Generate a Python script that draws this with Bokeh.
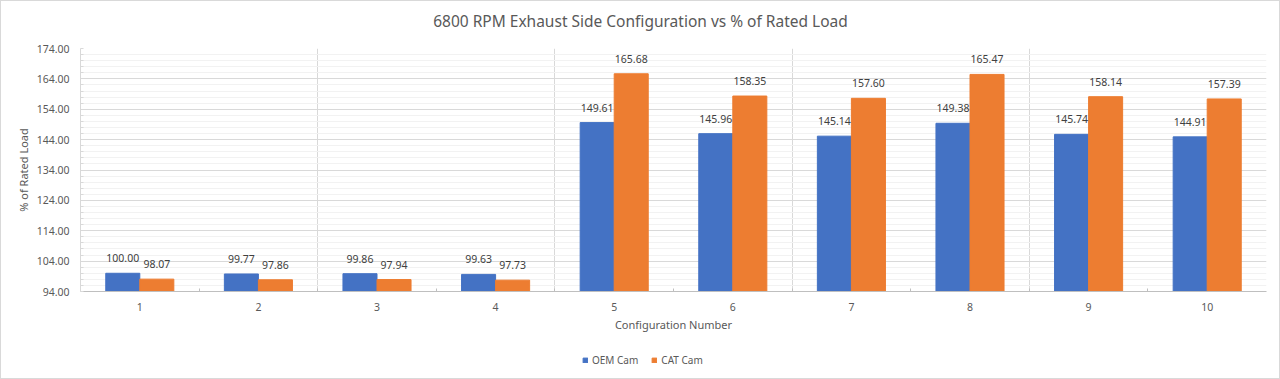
from bokeh.plotting import figure
from bokeh.layouts import column
from bokeh.models import (Range1d, FixedTicker, Legend, ColumnDataSource, LabelSet, Label,
                          NumeralTickFormatter)
from bokeh.transform import dodge
from bokeh.core.properties import value
from bokeh.embed import file_html
from bokeh.resources import INLINE

# ---- data ----
configs = [1, 2, 3, 4, 5, 6, 7, 8, 9, 10]
oem_cam = [100.00, 99.77, 99.86, 99.63, 149.61, 145.96, 145.14, 149.38, 145.74, 144.91]
cat_cam = [98.07, 97.86, 97.94, 97.73, 165.68, 158.35, 157.60, 165.47, 158.14, 157.39]
y_ticks = [94, 104, 114, 124, 134, 144, 154, 164, 174]
series_names = ["OEM Cam", "CAT Cam"]
chart_title = "6800 RPM Exhaust Side Configuration vs % of Rated Load"

FONT = "Noto Sans"
TXT = "#595959"
BLUE = "#4472C4"
ORANGE = "#ED7D31"

src = ColumnDataSource(dict(
    x=configs, oem=oem_cam, cat=cat_cam,
    oem_lbl=[f"{v:.2f}" for v in oem_cam],
    cat_lbl=[f"{v:.2f}" for v in cat_cam],
))

y_min, y_max = y_ticks[0], y_ticks[-1]
bw = 0.287

# ---- title strip (frame is aligned with the chart frame by the column layout) ----
hd = figure(width=1278, height=30, output_backend="svg", toolbar_location=None,
            x_range=Range1d(0, 1), y_range=Range1d(0, 1), min_border=0,
            x_axis_location=None, y_axis_location=None)
hd.grid.visible = False
hd.outline_line_color = None
hd.add_layout(Label(x=560, y=11, x_units="screen", y_units="screen", text=chart_title,
                    text_align="center", text_baseline="middle", text_font=FONT,
                    text_font_size="15.5px", text_color=TXT))

# ---- main chart ----
p = figure(width=1278, height=310, frame_width=1186, frame_height=243,
           output_backend="svg", toolbar_location=None,
           x_range=Range1d(configs[0] - 0.5, configs[-1] + 0.5),
           y_range=Range1d(y_min, y_max),
           min_border_left=79, min_border_right=13, min_border_top=17, min_border_bottom=50)
p.outline_line_color = None

r1 = p.vbar(x=dodge("x", -bw / 2), top="oem", bottom=y_min, width=bw, source=src,
            fill_color=BLUE, line_color=BLUE)
r2 = p.vbar(x=dodge("x", bw / 2), top="cat", bottom=y_min, width=bw, source=src,
            fill_color=ORANGE, line_color=ORANGE)

for fld, lbl, off in (("oem", "oem_lbl", -bw / 2), ("cat", "cat_lbl", bw / 2)):
    p.add_layout(LabelSet(x=dodge("x", off), y=fld, text=lbl, source=src,
                          text_align="center", text_baseline="bottom", y_offset=11,
                          text_font=value(FONT), text_font_size=value("10.5px"),
                          text_color="#404040"))

# x axis
xa = p.xaxis[0]
xa.ticker = FixedTicker(ticks=configs,
                        minor_ticks=[c + 0.5 for c in configs[:-1]])
xa.axis_label = "Configuration Number"
xa.axis_label_text_font = FONT
xa.axis_label_text_font_size = "11px"
xa.axis_label_text_font_style = "normal"
xa.axis_label_text_color = TXT
xa.axis_label_standoff = 3
xa.major_label_text_font = FONT
xa.major_label_text_font_size = "10.5px"
xa.major_label_text_color = TXT
xa.major_label_standoff = 11
xa.major_tick_in = 0
xa.major_tick_out = 0
xa.minor_tick_in = 3
xa.minor_tick_out = 0
xa.minor_tick_line_color = "#bfbfbf"
xa.axis_line_color = "#bfbfbf"

# y axis
ya = p.yaxis[0]
ya.ticker = FixedTicker(ticks=y_ticks, minor_ticks=list(range(y_min, y_max + 1, 2)))
ya.formatter = NumeralTickFormatter(format="0.00")
ya.axis_label = "% of Rated Load"
ya.axis_label_text_font = FONT
ya.axis_label_text_font_size = "11px"
ya.axis_label_text_font_style = "normal"
ya.axis_label_text_color = TXT
ya.axis_label_standoff = 3
ya.major_label_text_font = FONT
ya.major_label_text_font_size = "10.5px"
ya.major_label_text_color = TXT
ya.major_label_standoff = 11
ya.major_tick_in = 0
ya.major_tick_out = 0
ya.minor_tick_in = 3
ya.minor_tick_out = 0
ya.minor_tick_line_color = "#d9d9d9"
ya.axis_line_color = "#d9d9d9"

# grids
p.xgrid.ticker = FixedTicker(ticks=[2.5, 4.5, 6.5, 8.5, 10.5])
p.xgrid.grid_line_color = "#d9d9d9"
p.ygrid.grid_line_color = "#d9d9d9"
p.ygrid.minor_grid_line_color = "#f2f2f2"

# ---- legend strip below the chart (swatch renderers placed far outside its view) ----
lg = figure(width=1278, height=37, output_backend="svg", toolbar_location=None,
            x_range=Range1d(0, 1), y_range=Range1d(0, 1), min_border=0,
            x_axis_location=None, y_axis_location=None)
lg.grid.visible = False
lg.outline_line_color = None
swatch = ColumnDataSource(dict(x=[-1000], top=[-1000], bottom=[-2000]))
k1 = lg.vbar(x="x", top="top", bottom="bottom", width=bw, source=swatch,
             fill_color=BLUE, line_color=BLUE)
k2 = lg.vbar(x="x", top="top", bottom="bottom", width=bw, source=swatch,
             fill_color=ORANGE, line_color=ORANGE)
legend = Legend(items=[(series_names[0], [k1]), (series_names[1], [k2])],
                orientation="horizontal", location=(502, 11),
                glyph_width=6, glyph_height=6, label_standoff=4, spacing=13,
                padding=0, margin=0, border_line_color=None, background_fill_alpha=0,
                label_text_font=FONT, label_text_font_size="10px", label_text_color=TXT,
                label_height=14)
lg.add_layout(legend, "center")

page = column(hd, p, lg, spacing=0, styles={"border": "1px solid #d9d9d9"})

open("out.html", "w").write(file_html(page, INLINE))
